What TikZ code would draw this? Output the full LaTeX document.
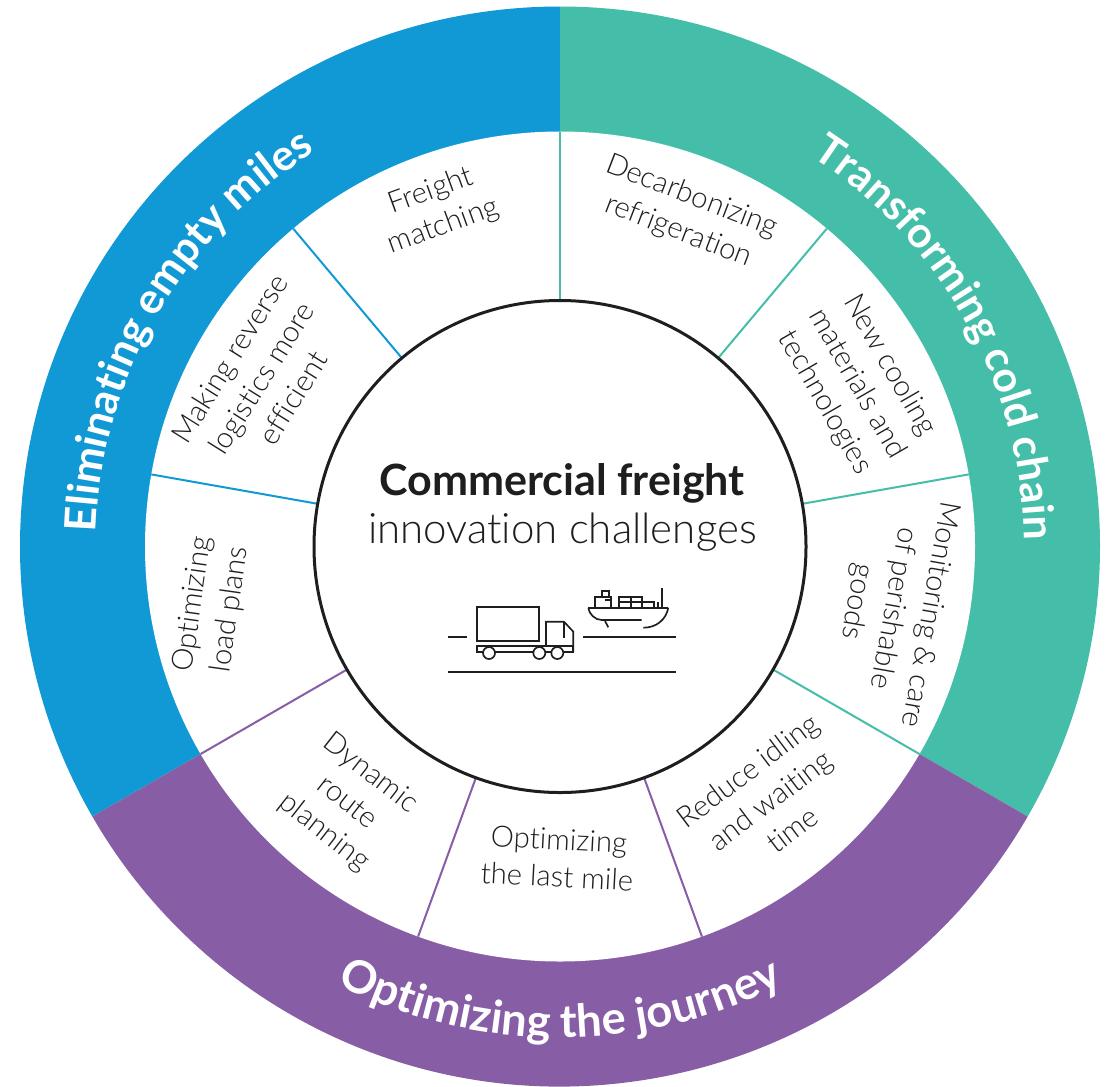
\documentclass[tikz,border=0pt]{standalone}
\usepackage{fontspec}
\setmainfont{Lato}
\newfontfamily\lightfont[Ligatures=NoCommon]{Lato Light}
\usetikzlibrary{decorations.text}
\definecolor{bandblue}{HTML}{1199D6}
\definecolor{bandgreen}{HTML}{44BEA8}
\definecolor{bandpurple}{HTML}{875DA6}
\definecolor{inkdark}{HTML}{1E1E1E}
\tikzset{
  seglabel/.style={inner sep=0.75pt,align=center,text=inkdark,font=\lightfont\fontsize{22}{28}\selectfont},
  iconline/.style={line width=1.25pt,inkdark},
  bandtext/.style n args={2}{decorate,decoration={text along path,text align=center,text color=white,text format delimiters={|}{|},
    text={|\fontsize{#1}{36}\selectfont\bfseries|#2}}}
}
\begin{document}
\begin{tikzpicture}[x=0.75pt,y=0.75pt,yscale=-1,xscale=1]
\useasboundingbox (0,0) rectangle (1106,1086);
\coordinate (hub) at (560,546.5);

%Shape: Sector
\fill [bandblue] (hub) -- ++(-90:540) arc [start angle=-90,end angle=-210,radius=540] -- cycle ;
%Shape: Sector
\fill [bandgreen] (hub) -- ++(-90:540) arc [start angle=-90,end angle=30,radius=540] -- cycle ;
%Shape: Sector
\fill [bandpurple] (hub) -- ++(30:540) arc [start angle=30,end angle=150,radius=540] -- cycle ;
%Shape: Circle
\fill [white] (hub) circle [radius=415] ;

%Straight Lines
\draw [bandgreen,line width=1.5pt]    (560,300.5) -- (560,131.5) ;
\draw [bandgreen,line width=1.5pt]    (718.1,358.1) -- (826.8,228.6) ;
\draw [bandgreen,line width=1.5pt]    (802.3,503.8) -- (968.7,474.4) ;
\draw [bandgreen,line width=1.5pt]    (773,669.5) -- (919.4,754) ;
%Straight Lines
\draw [bandpurple,line width=1.5pt]    (644.1,777.7) -- (701.9,936.5) ;
\draw [bandpurple,line width=1.5pt]    (475.9,777.7) -- (418.1,936.5) ;
\draw [bandpurple,line width=1.5pt]    (347,669.5) -- (200.6,754) ;
%Straight Lines
\draw [bandblue,line width=1.5pt]    (317.7,503.8) -- (151.3,474.4) ;
\draw [bandblue,line width=1.5pt]    (401.9,358.1) -- (293.2,228.6) ;

%Shape: Circle
\draw [inkdark,line width=2.25pt] (hub) circle [radius=246] ;

% Text Node
\path [bandtext={32.4}{Eliminating empty miles}] (hub) ++(-240:464) arc [start angle=-240,end angle=-60,radius=464] ;
% Text Node
\path [bandtext={32}{Transforming cold chain}] (hub) ++(-119:464) arc [start angle=-119,end angle=61,radius=464] ;
% Text Node
\path [bandtext={34}{Optimizing the journey}] (hub) ++(180:491) arc [start angle=180,end angle=0,radius=491] ;

% Text Node
\draw (437,209) node (freight) [seglabel,rotate=20] {Freight\\matching};
% Text Node
\draw (685,214) node (decarb) [seglabel,rotate=-21] {Decarbonizing\\refrigeration};
% Text Node
\draw (857,384) node (cooling) [seglabel,rotate=-60] {New cooling\\materials and\\technologies};
% Text Node
\draw (893,608) node (monitoring) [seglabel,rotate=-100] {Monitoring \& care\\of perishable\\goods};
% Text Node
\draw (770,800) node (idling) [seglabel,rotate=37] {Reduce idling\\and waiting\\time};
% Text Node
\draw (558,858) node (lastmile) [seglabel,rotate=-3] {Optimizing\\the last mile};
% Text Node
\draw (347,803) node (route) [seglabel,rotate=-38] {Dynamic\\route\\planning};
% Text Node
\draw (212,607) node (loadplans) [seglabel,rotate=82] {Optimizing\\load plans};
% Text Node
\draw (261,378) node (reverse) [seglabel,rotate=58] {Making reverse\\logistics more\\efficient};

% Text Node
\draw (562,495) node (title) [anchor=base,inner sep=0.75pt,text=inkdark,font=\fontsize{32.3}{36}\selectfont\bfseries] {Commercial freight};
% Text Node
\draw (562.5,543) node (subtitle) [anchor=base,inner sep=0.75pt,text=inkdark,font=\lightfont\fontsize{31.5}{36}\selectfont] {innovation challenges};

%Truck
\draw [iconline]  (447.7,636.7) -- (466.7,636.7) ;
\draw [iconline]  (477.3,607.3) rectangle (539.3,641) ;
\draw [iconline]  (546,646.3) -- (546,621.7) -- (564,621.7) -- (573.3,631.7) -- (573.3,652.3) ;
\draw [iconline]  (564,621.7) -- (564,638.3) ;
\draw [iconline]  (477.3,646.3) rectangle (573.3,652.3) ;
\draw [iconline,fill=white]  (489,653) circle [radius=6] ;
\draw [iconline,fill=white]  (539.3,653) circle [radius=6] ;
\draw [iconline,fill=white]  (557.3,653) circle [radius=6] ;
%Ground and water
\draw [iconline]  (447.7,672.3) -- (676,672.3) ;
\draw [iconline]  (583.3,636.7) -- (676,636.7) ;
%Ship
\draw [iconline]  (588.3,607.7) -- (668.3,607.7) ;
\draw [iconline]  (588.3,607.7) .. controls (589,614) and (595,620) .. (601.7,620) -- (641.7,620) ;
\draw [iconline]  (668.3,607.7) .. controls (666,620) and (656,627.7) .. (643.3,627.7) ;
\draw [iconline]  (605,621) -- (608.3,627.3) ;
\draw [iconline]  (595,607.7) -- (595,596.7) -- (611,596.7) -- (611,607.7) ;
\draw [iconline]  (602.3,596.7) -- (602.3,591) -- (609.3,591) -- (609.3,596.7) ;
\draw [iconline]  (605,600) -- (611,600) ;
\draw [iconline]  (619,607.7) -- (619,596.7) -- (642.3,596.7) -- (642.3,607.7) ;
\draw [iconline]  (619,602.3) -- (654.3,602.3) -- (654.3,607.7) ;
\draw [iconline]  (630.7,596.7) -- (630.7,607.7) ;
\draw [iconline]  (658.3,607.7) -- (658.3,602.3) ;
\draw [iconline]  (661.7,607.7) -- (661.7,588.3) ;
\end{tikzpicture}
\end{document}
